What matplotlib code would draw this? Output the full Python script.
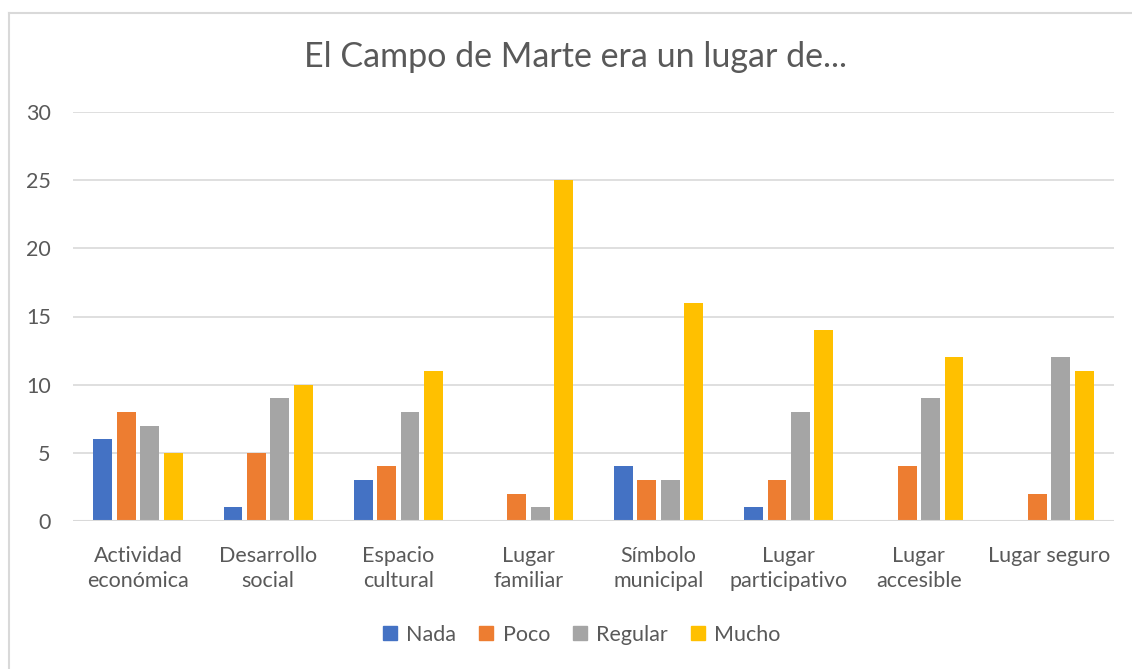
import numpy as np
import matplotlib.pyplot as plt
from matplotlib.lines import Line2D

categories = ["Actividad\neconómica", "Desarrollo\nsocial", "Espacio\ncultural",
              "Lugar\nfamiliar", "Símbolo\nmunicipal", "Lugar\nparticipativo",
              "Lugar\naccesible", "Lugar seguro"]
series_names = ["Nada", "Poco", "Regular", "Mucho"]
nada = [6, 1, 3, 0, 4, 1, 0, 0]
poco = [8, 5, 4, 2, 3, 3, 4, 2]
regular = [7, 9, 8, 1, 3, 8, 9, 12]
mucho = [5, 10, 11, 25, 16, 14, 12, 11]
yticks = [0, 5, 10, 15, 20, 25, 30]

colors = ["#4472C4", "#ED7D31", "#A5A5A5", "#FFC000"]
txt = "#595959"
plt.rcParams['font.family'] = ['Lato', 'DejaVu Sans']

W, H = 1132, 669
fig = plt.figure(figsize=(W / 100, H / 100), dpi=100)
# axes area in pixels: x 73..1114, y 112..521
ax = fig.add_axes([73 / W, 1 - 521 / H, (1114 - 73) / W, (521 - 112) / H])

x = np.arange(len(categories))
width = 0.145
step = 0.18
for k, vals in enumerate([nada, poco, regular, mucho]):
    ax.bar(x + (k - 1.5) * step, vals, width, color=colors[k], zorder=3,
           label=series_names[k])

ax.set_xlim(-0.5, len(categories) - 0.5)
ax.set_ylim(0, 30)
ax.set_yticks(yticks)
ax.set_yticklabels([str(t) for t in yticks], fontsize=15.5, color=txt)
ax.set_xticks(x)
ax.set_xticklabels(categories, fontsize=15.5, color=txt, linespacing=1.3)
ax.tick_params(length=0)
ax.tick_params(axis='y', pad=16)
ax.tick_params(axis='x', pad=18)
ax.grid(axis='y', color="#D9D9D9", linewidth=1.2, zorder=0)
for s in ax.spines.values():
    s.set_visible(False)
ax.axhline(0, color="#D9D9D9", linewidth=1.5, zorder=4)

fig.text(576 / W, 1 - 57 / H, "El Campo de Marte era un lugar de...",
         ha='center', va='center', fontsize=24.5, color=txt)

handles = [Line2D([], [], marker='s', linestyle='none', markersize=10,
                  markerfacecolor=c, markeredgecolor=c) for c in colors]
fig.legend(handles, series_names, loc='center', bbox_to_anchor=(580 / W, 1 - 635 / H),
           ncol=4, frameon=False, fontsize=15.5, handletextpad=0.25, columnspacing=0.9,
           handlelength=1.0, labelcolor=txt)

# chart border (only left and top visible)
fig.add_artist(Line2D([8.5 / W, 8.5 / W], [0, 1 - 12.5 / H], color="#D9D9D9",
                      linewidth=1.5, transform=fig.transFigure))
fig.add_artist(Line2D([8.5 / W, 1], [1 - 12.5 / H, 1 - 12.5 / H], color="#D9D9D9",
                      linewidth=1.5, transform=fig.transFigure))

fig.savefig("out.png", dpi=100)
